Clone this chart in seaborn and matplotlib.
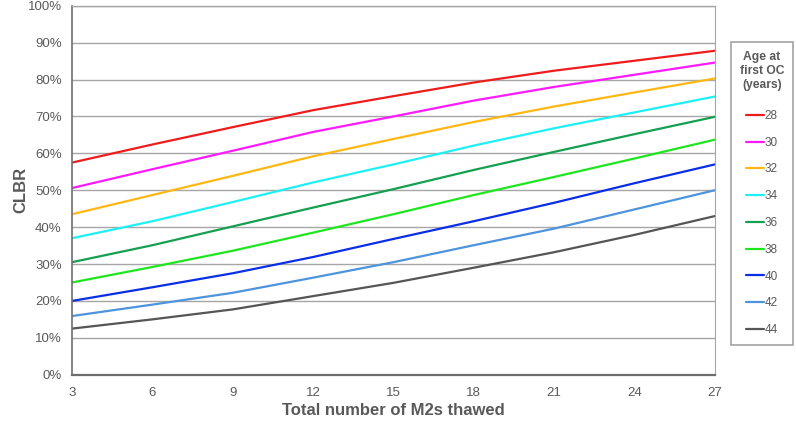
import pandas as pd
import matplotlib
matplotlib.use("Agg")
import matplotlib.pyplot as plt
import seaborn as sns

# values (CLBR in %, at every 3 M2s thawed)
thawed = [3, 6, 9, 12, 15, 18, 21, 24, 27]
ages = [28, 30, 32, 34, 36, 38, 40, 42, 44]
clbr = {
    28: [57.5, 62.4, 67.1, 71.7, 75.5, 79.2, 82.4, 85.1, 87.8],
    30: [50.6, 55.7, 60.7, 65.8, 70.0, 74.3, 78.0, 81.3, 84.6],
    32: [43.5, 48.7, 53.9, 59.2, 63.9, 68.5, 72.7, 76.5, 80.3],
    34: [37.0, 41.6, 46.8, 52.1, 57.0, 62.1, 66.8, 71.1, 75.4],
    36: [30.5, 35.1, 40.2, 45.3, 50.3, 55.5, 60.4, 65.2, 69.9],
    38: [25.0, 29.2, 33.6, 38.5, 43.5, 48.7, 53.6, 58.6, 63.7],
    40: [20.0, 23.7, 27.5, 31.9, 36.8, 41.6, 46.6, 51.9, 57.0],
    42: [15.9, 19.0, 22.2, 26.3, 30.5, 35.1, 39.6, 44.8, 50.0],
    44: [12.5, 15.0, 17.7, 21.3, 24.9, 29.0, 33.2, 37.9, 43.0],
}
colors = ["#ee1c1c", "#ff1aff", "#ffb813", "#1ef0f5", "#14a050",
          "#1ee61e", "#0a2ee6", "#4d94dc", "#555555"]

rows = []
for a in ages:
    for x, v in zip(thawed, clbr[a]):
        rows.append({"thawed": x, "CLBR": v, "age": str(a)})
df = pd.DataFrame(rows)

sns.set_style("white")
plt.rcParams["font.family"] = ["Liberation Sans", "DejaVu Sans"]
grey = "#595959"

fig = plt.figure(figsize=(7.96, 4.28), dpi=100)
ax = fig.add_axes([0.0905, 0.1245, 0.8075, 0.862])

palette = dict(zip([str(a) for a in ages], colors))
sns.lineplot(data=df, x="thawed", y="CLBR", hue="age", palette=palette,
             linewidth=1.6, ax=ax, legend=True)

ax.set_xlim(3, 27)
ax.set_ylim(0, 100)
ax.set_xticks(thawed)
ax.set_yticks(range(0, 101, 10))
ax.set_yticklabels([f"{v}%" for v in range(0, 101, 10)])
ax.yaxis.grid(True, color="#a6a6a6", linewidth=1)
ax.set_axisbelow(True)
ax.tick_params(axis="both", colors=grey, labelsize=9.5, length=4, width=1,
               direction="out")
ax.tick_params(axis="x", pad=5)
for s in ["left", "bottom"]:
    ax.spines[s].set_color("#6e6e6e")
ax.spines["bottom"].set_linewidth(1.6)
ax.spines["left"].set_linewidth(1.2)
ax.spines["right"].set_color("#a6a6a6")
ax.spines["top"].set_color("#a6a6a6")
ax.spines["top"].set_linewidth(1)

ax.set_xlabel("Total number of M2s thawed", fontsize=12, fontweight="bold",
              color=grey, va="center")
ax.xaxis.set_label_coords(0.5, -0.096)
ax.set_ylabel("CLBR", fontsize=12, fontweight="bold", color=grey,
              va="center")
ax.yaxis.set_label_coords(-0.08, 0.5)

leg = ax.legend(title="Age at\nfirst OC\n(years)", loc="upper left",
                bbox_to_anchor=(1.025, 0.9016), borderaxespad=0,
                frameon=True, fancybox=False,
                fontsize=8.5, title_fontsize=8.7, handlelength=1.5,
                handletextpad=0.1, labelspacing=1.25, borderpad=0.75,
                labelcolor=grey)
leg.get_title().set_fontweight("bold")
leg.get_title().set_color(grey)
leg.get_title().set_multialignment("center")
leg._legend_box.sep = 14
leg.get_frame().set_edgecolor("#8c8c8c")
leg.get_frame().set_linewidth(1.2)

fig.savefig("out.png", dpi=100)
